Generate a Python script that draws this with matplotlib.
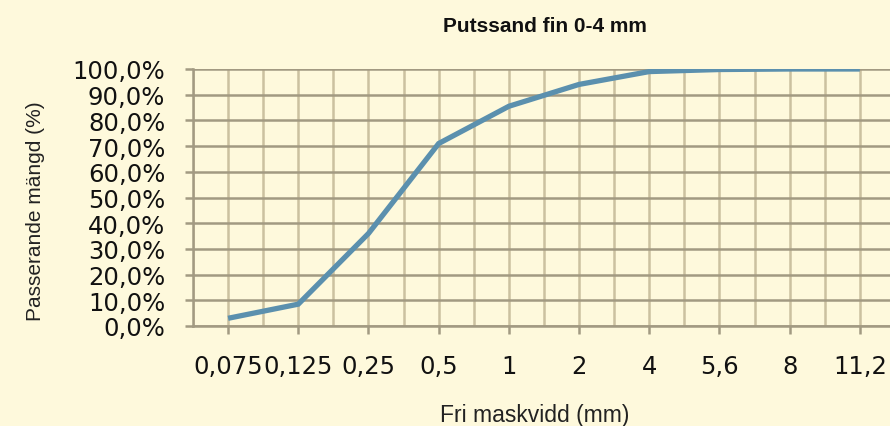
import matplotlib
matplotlib.use("Agg")
import matplotlib.pyplot as plt
from matplotlib.ticker import FixedLocator, FuncFormatter

# Sieve sizes (mm) and cumulative passing fraction
sizes = ["0,075", "0,125", "0,25", "0,5", "1", "2", "4", "5,6", "8", "11,2"]
passing = [0.030, 0.085, 0.36, 0.71, 0.855, 0.94, 0.99, 0.998, 1.0, 1.0]
y_ticks = [0.0, 0.1, 0.2, 0.3, 0.4, 0.5, 0.6, 0.7, 0.8, 0.9, 1.0]

title = "Putssand fin 0-4 mm"
x_title = "Fri maskvidd (mm)"
y_title = "Passerande mängd (%)"

BG = "#FEF9DC"
HGRID = "#A29A82"
VGRID = "#CBC1A0"
LINE = "#5B90AE"

W, H = 890, 427
fig = plt.figure(figsize=(W / 100, H / 100), dpi=100, facecolor=BG)
ax = fig.add_axes([193 / W, (H - 327) / H, 1 - 193 / W, (327 - 70) / H])
ax.set_facecolor(BG)

x = list(range(len(sizes)))
ax.plot(x, passing, color=LINE, lw=3.8, solid_capstyle="butt",
        solid_joinstyle="miter", zorder=3)

ax.set_xlim(-0.5, 9.43)
ax.set_ylim(0, 1)

# x ticks at each sieve, vertical grid at sieves and between them
ax.xaxis.set_major_locator(FixedLocator(x))
ax.xaxis.set_minor_locator(FixedLocator([i - 0.5 for i in range(len(sizes) + 1)]))
ax.set_xticklabels(sizes)
ax.yaxis.set_major_locator(FixedLocator(y_ticks))
ax.yaxis.set_major_formatter(FuncFormatter(lambda v, p: f"{v * 100:.1f}%".replace(".", ",")))

ax.grid(which="both", axis="x", color=VGRID, lw=1.8, zorder=1)
ax.grid(which="major", axis="y", color=HGRID, lw=1.8, zorder=1)

for s in ("top", "right"):
    ax.spines[s].set_visible(False)
for s in ("left", "bottom"):
    ax.spines[s].set_color(HGRID)
    ax.spines[s].set_linewidth(1.8)
    ax.spines[s].set_zorder(2)

ax.tick_params(axis="x", which="major", direction="out", length=6, width=1.8,
               color=HGRID, pad=14, labelsize=17.5, labelcolor="#111111")
ax.tick_params(axis="x", which="minor", length=0)
ax.tick_params(axis="y", direction="out", length=6, width=1.8,
               color=HGRID, pad=14, labelsize=17.5, labelcolor="#111111")
for lbl in ax.get_xticklabels() + ax.get_yticklabels():
    lbl.set_fontfamily("DejaVu Sans")

fig.text(545 / W, (H - 32) / H, title, ha="center", va="baseline",
         fontsize=15, fontweight="bold", family="Liberation Sans", color="#111111")
fig.text(535 / W, (H - 422) / H, x_title, ha="center", va="baseline",
         fontsize=16.5, family="Liberation Sans", color="#222222")
fig.text(36 / W, (H - 211) / H, y_title, ha="center", va="center", rotation=90,
         fontsize=15, family="Liberation Sans", color="#222222")

fig.savefig("out.png", dpi=100, facecolor=BG)
